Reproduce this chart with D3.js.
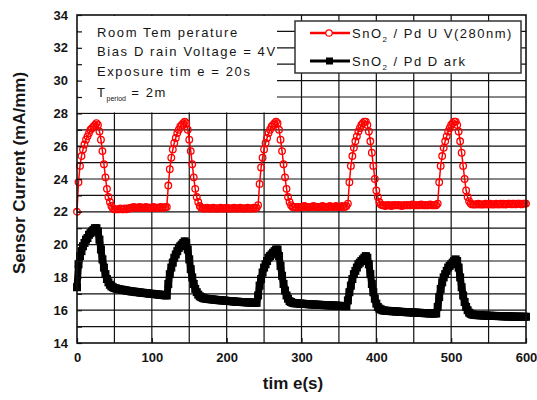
<!DOCTYPE html>
<html>
<head>
<meta charset="utf-8">
<script src="https://cdn.jsdelivr.net/npm/d3@7"></script>
<style>
body { margin: 0; background: #fff; }
text { font-family: "Liberation Sans", Arial, sans-serif; fill: #151515; }
.axis text { font-size: 13px; font-weight: bold; }
.axis line { stroke: #111; stroke-width: 1.2; }
.axis .domain { display: none; }
</style>
</head>
<body>
<svg id="chart" width="537" height="400"></svg>
<script>
// sampled every 2 s, 0..600 s
const sampleStep = 2;
const xTicks = [0, 100, 200, 300, 400, 500, 600];
const yTicks = [14, 16, 18, 20, 22, 24, 26, 28, 30, 32, 34];

const uvCurrent = [
  22.0, 23.8, 24.8, 25.4, 25.8, 26.1, 26.4, 26.6, 26.8, 27.0, 27.1, 27.2, 27.3, 27.4, 27.3,
  26.9, 26.4, 25.7, 24.9, 24.1, 23.4, 22.9, 22.6, 22.35, 22.2,
  22.15, 22.15, 22.15, 22.15, 22.2, 22.15, 22.15, 22.2, 22.15, 22.2, 22.2,
  22.25, 22.25, 22.3, 22.25, 22.25, 22.25, 22.3, 22.25, 22.25, 22.25, 22.3, 22.25,
  22.25, 22.25, 22.25, 22.3, 22.25, 22.25, 22.25, 22.25, 22.3, 22.25, 22.25, 22.3,
  // 120 s
  22.3, 23.6, 24.6, 25.3, 25.8, 26.2, 26.5, 26.8, 27.0, 27.2, 27.3, 27.4, 27.5, 27.4, 27.0,
  26.4, 25.7, 24.9, 24.1, 23.4, 22.9, 22.6, 22.35, 22.25, 22.2,
  22.2, 22.2, 22.25, 22.2, 22.2, 22.2, 22.25, 22.2, 22.2, 22.2,
  22.2, 22.25, 22.2, 22.2, 22.2, 22.25, 22.2, 22.2, 22.2, 22.2,
  22.25, 22.2, 22.2, 22.2, 22.25, 22.2, 22.2, 22.2, 22.2, 22.25,
  22.2, 22.2, 22.2, 22.25, 22.2,
  // 240 s
  22.25, 22.4, 23.7, 24.7, 25.3, 25.8, 26.2, 26.5, 26.8, 27.0, 27.2, 27.3, 27.4, 27.5, 27.4,
  27.0, 26.4, 25.7, 24.9, 24.1, 23.4, 22.9, 22.6, 22.4, 22.3,
  22.3, 22.3, 22.25, 22.3, 22.3, 22.3, 22.3, 22.35, 22.3, 22.3,
  22.3, 22.3, 22.3, 22.35, 22.3, 22.3, 22.3, 22.3, 22.3, 22.35,
  22.3, 22.3, 22.3, 22.3, 22.35, 22.3, 22.3, 22.3, 22.35, 22.3,
  22.3, 22.3, 22.35, 22.3, 22.3,
  // 360 s
  22.35, 22.5, 23.8, 24.8, 25.4, 25.9, 26.3, 26.6, 26.9, 27.1, 27.3, 27.4, 27.5, 27.5, 27.3,
  26.9, 26.3, 25.6, 24.8, 24.0, 23.3, 22.9, 22.6, 22.45, 22.4,
  22.4, 22.35, 22.4, 22.4, 22.4, 22.35, 22.4, 22.4, 22.4, 22.4,
  22.4, 22.4, 22.35, 22.4, 22.4, 22.4, 22.4, 22.4, 22.4, 22.45,
  22.4, 22.4, 22.4, 22.4, 22.4, 22.45, 22.4, 22.4, 22.4, 22.4,
  22.4, 22.45, 22.4, 22.4, 22.4,
  // 480 s
  22.4, 22.5, 23.8, 24.8, 25.4, 25.9, 26.3, 26.6, 26.9, 27.1, 27.3, 27.4, 27.5, 27.5, 27.3,
  26.9, 26.3, 25.6, 24.8, 24.0, 23.3, 22.9, 22.65, 22.5, 22.45,
  22.45, 22.45, 22.45, 22.5, 22.45, 22.45, 22.45, 22.45, 22.5, 22.45,
  22.45, 22.5, 22.45, 22.45, 22.45, 22.5, 22.45, 22.45, 22.5, 22.45,
  22.5, 22.45, 22.45, 22.5, 22.5, 22.45, 22.5, 22.5, 22.45, 22.5,
  22.5, 22.5, 22.45, 22.5, 22.5, 22.5
];

const darkCurrent = [
  17.4, 18.8, 19.3, 19.6, 19.9, 20.1, 20.3, 20.4, 20.6, 20.7, 20.8, 20.9, 21.0, 21.0, 20.8,
  20.3, 19.7, 19.1, 18.6, 18.2, 17.9, 17.7, 17.55, 17.45, 17.4,
  17.35, 17.33, 17.3, 17.28, 17.26, 17.25, 17.23, 17.22, 17.2, 17.18,
  17.17, 17.15, 17.14, 17.13, 17.12, 17.1, 17.1, 17.08, 17.07, 17.06,
  17.05, 17.04, 17.03, 17.02, 17.0, 17.0, 16.99, 16.98, 16.97, 16.96,
  16.95, 16.94, 16.93, 16.92, 16.9,
  // 120 s
  16.9, 17.6, 18.2, 18.6, 18.9, 19.2, 19.4, 19.6, 19.8, 19.9, 20.0, 20.1, 20.2, 20.1, 19.7,
  19.1, 18.5, 18.0, 17.6, 17.3, 17.1, 16.95, 16.85, 16.8, 16.75,
  16.72, 16.7, 16.69, 16.68, 16.67, 16.66, 16.65, 16.64, 16.63, 16.62,
  16.61, 16.6, 16.6, 16.59, 16.58, 16.57, 16.56, 16.56, 16.55, 16.54,
  16.53, 16.52, 16.52, 16.51, 16.5, 16.5, 16.49, 16.49, 16.48, 16.48,
  16.47, 16.47, 16.46, 16.46, 16.45,
  // 240 s
  16.45, 16.9, 17.5, 17.9, 18.3, 18.6, 18.8, 19.0, 19.2, 19.3, 19.4, 19.5, 19.6, 19.7, 19.7,
  19.3, 18.7, 18.1, 17.6, 17.2, 16.9, 16.7, 16.55, 16.5, 16.45,
  16.43, 16.42, 16.42, 16.41, 16.4, 16.4, 16.39, 16.38, 16.38, 16.37,
  16.36, 16.36, 16.35, 16.35, 16.34, 16.34, 16.33, 16.33, 16.32, 16.32,
  16.31, 16.31, 16.3, 16.3, 16.3, 16.29, 16.29, 16.28, 16.28, 16.27,
  16.27, 16.26, 16.26, 16.25, 16.25,
  // 360 s
  16.25, 16.6, 17.1, 17.5, 17.9, 18.2, 18.4, 18.6, 18.8, 18.9, 19.0, 19.1, 19.2, 19.3, 19.2,
  18.8, 18.2, 17.6, 17.1, 16.7, 16.4, 16.2, 16.1, 16.05, 16.0,
  15.98, 15.97, 15.96, 15.96, 15.95, 15.94, 15.94, 15.93, 15.92, 15.92,
  15.91, 15.9, 15.9, 15.89, 15.89, 15.88, 15.88, 15.87, 15.87, 15.86,
  15.86, 15.85, 15.85, 15.84, 15.84, 15.83, 15.83, 15.82, 15.82, 15.81,
  15.81, 15.8, 15.8, 15.8, 15.8,
  // 480 s
  15.8, 16.2, 16.8, 17.3, 17.7, 18.0, 18.2, 18.4, 18.6, 18.7, 18.8, 18.9, 19.0, 19.1, 19.0,
  18.6, 18.0, 17.4, 16.9, 16.5, 16.2, 16.0, 15.85, 15.78, 15.74,
  15.72, 15.71, 15.7, 15.7, 15.69, 15.69, 15.68, 15.68, 15.67, 15.67,
  15.66, 15.66, 15.66, 15.65, 15.65, 15.65, 15.64, 15.64, 15.64, 15.63,
  15.63, 15.63, 15.62, 15.62, 15.62, 15.62, 15.61, 15.61, 15.61, 15.61,
  15.6, 15.6, 15.6, 15.6, 15.6, 15.6
];

const margin = {top: 15, right: 11, bottom: 57, left: 77},
  width = 449,
  height = 328;

const svg = d3.select('#chart');
const chart = svg.append('g')
  .attr('transform', `translate(${margin.left},${margin.top})`);

const x = d3.scaleLinear().domain([0, 600]).range([0, width]);
const y = d3.scaleLinear().domain([14, 34]).range([height, 0]);

const uvData = uvCurrent.map((v, i) => ({t: i * sampleStep, v: v}));
const darkData = darkCurrent.map((v, i) => ({t: i * sampleStep, v: v}));

// grid
chart.append('g')
  .selectAll('line')
  .data(x.ticks(12).filter(d => d > 0 && d < 600))
  .enter().append('line')
  .attr('x1', d => x(d)).attr('x2', d => x(d))
  .attr('y1', 0).attr('y2', height)
  .attr('stroke', '#111').attr('stroke-width', 1.2);

chart.append('g')
  .selectAll('line')
  .data(y.ticks(20).filter(d => d > 14 && d < 34))
  .enter().append('line')
  .attr('x1', 0).attr('x2', width)
  .attr('y1', d => y(d)).attr('y2', d => y(d))
  .attr('stroke', '#111').attr('stroke-width', 1.2);

// white box behind the notes
chart.append('rect')
  .attr('x', 1).attr('y', 1)
  .attr('width', 199).attr('height', y(28) - 2)
  .attr('fill', '#fff');

// dark series
const line = d3.line().x(d => x(d.t)).y(d => y(d.v));

chart.append('path')
  .datum(darkData)
  .attr('d', line)
  .attr('fill', 'none')
  .attr('stroke', '#000')
  .attr('stroke-width', 7)
  .attr('stroke-linejoin', 'round');

chart.append('g')
  .selectAll('rect')
  .data(darkData)
  .enter().append('rect')
  .attr('x', d => x(d.t) - 4)
  .attr('y', d => y(d.v) - 4)
  .attr('width', 8).attr('height', 8)
  .attr('fill', '#000');

// uv series
chart.append('path')
  .datum(uvData)
  .attr('d', line)
  .attr('fill', 'none')
  .attr('stroke', '#f00')
  .attr('stroke-width', 1.5);

chart.append('g')
  .selectAll('circle')
  .data(uvData)
  .enter().append('circle')
  .attr('cx', d => x(d.t))
  .attr('cy', d => y(d.v))
  .attr('r', 3.3)
  .attr('fill', 'none')
  .attr('stroke', '#f00')
  .attr('stroke-width', 1.3);

// frame
chart.append('rect')
  .attr('width', width).attr('height', height)
  .attr('fill', 'none')
  .attr('stroke', '#111').attr('stroke-width', 1.6);

// axes
chart.append('g')
  .attr('class', 'axis')
  .call(d3.axisLeft(y)
    .tickValues(y.ticks(20))
    .tickSize(-5)
    .tickPadding(9)
    .tickFormat(d => yTicks.includes(d) ? d : ''));

chart.append('g')
  .attr('class', 'axis')
  .attr('transform', `translate(0,${height})`)
  .call(d3.axisBottom(x)
    .tickValues(xTicks)
    .tickSize(-5)
    .tickPadding(10));

// axis titles
svg.append('text')
  .attr('x', 293)
  .attr('y', 389)
  .attr('text-anchor', 'middle')
  .style('font-size', '17px')
  .style('font-weight', 'bold')
  .text('tim e(s)');

svg.append('text')
  .attr('transform', 'translate(25,173) rotate(-90)')
  .attr('text-anchor', 'middle')
  .style('font-size', '17px')
  .style('font-weight', 'bold')
  .text('Sensor Current (mA/mm)');

// notes
const notes = ['Room Tem perature', 'Bias D rain Voltage = 4V', 'Exposure tim e = 20s'];
const notesY = [37, 56, 76];

svg.append('g')
  .selectAll('text')
  .data(notes)
  .enter().append('text')
  .attr('x', 97)
  .attr('y', (d, i) => notesY[i])
  .style('font-size', '13px')
  .style('letter-spacing', '1.6px')
  .text(d => d);

const period = svg.append('text')
  .attr('x', 97)
  .attr('y', 97)
  .style('font-size', '13px')
  .style('letter-spacing', '1.6px');
period.append('tspan').text('T');
period.append('tspan').attr('dy', 4).style('font-size', '7px').style('letter-spacing', '0px').text('period');
period.append('tspan').attr('dy', -4).text(' = 2m');

// legend
const legend = svg.append('g');
legend.append('rect')
  .attr('x', 295).attr('y', 21)
  .attr('width', 226).attr('height', 52)
  .attr('fill', '#fff')
  .attr('stroke', '#333').attr('stroke-width', 1.5);

legend.append('line')
  .attr('x1', 310).attr('x2', 350).attr('y1', 33).attr('y2', 33)
  .attr('stroke', '#f00').attr('stroke-width', 2.5);
legend.append('circle')
  .attr('cx', 329).attr('cy', 33).attr('r', 3.2)
  .attr('fill', '#fff').attr('stroke', '#f00').attr('stroke-width', 1.2);

legend.append('line')
  .attr('x1', 310).attr('x2', 350).attr('y1', 61).attr('y2', 61)
  .attr('stroke', '#000').attr('stroke-width', 3);
legend.append('rect')
  .attr('x', 326).attr('y', 57.5).attr('width', 7).attr('height', 7)
  .attr('fill', '#000');

const legendNames = [' / Pd U V(280nm)', ' / Pd D ark'];
const legendY = [38, 66];

legendNames.forEach((name, i) => {
  const t = legend.append('text')
    .attr('x', 352)
    .attr('y', legendY[i])
    .style('font-size', '13px')
    .style('letter-spacing', '1.5px');
  t.append('tspan').text('SnO');
  t.append('tspan').attr('dy', 4).style('font-size', '8px').text('2');
  t.append('tspan').attr('dy', -4).text(name);
});
</script>
</body>
</html>
